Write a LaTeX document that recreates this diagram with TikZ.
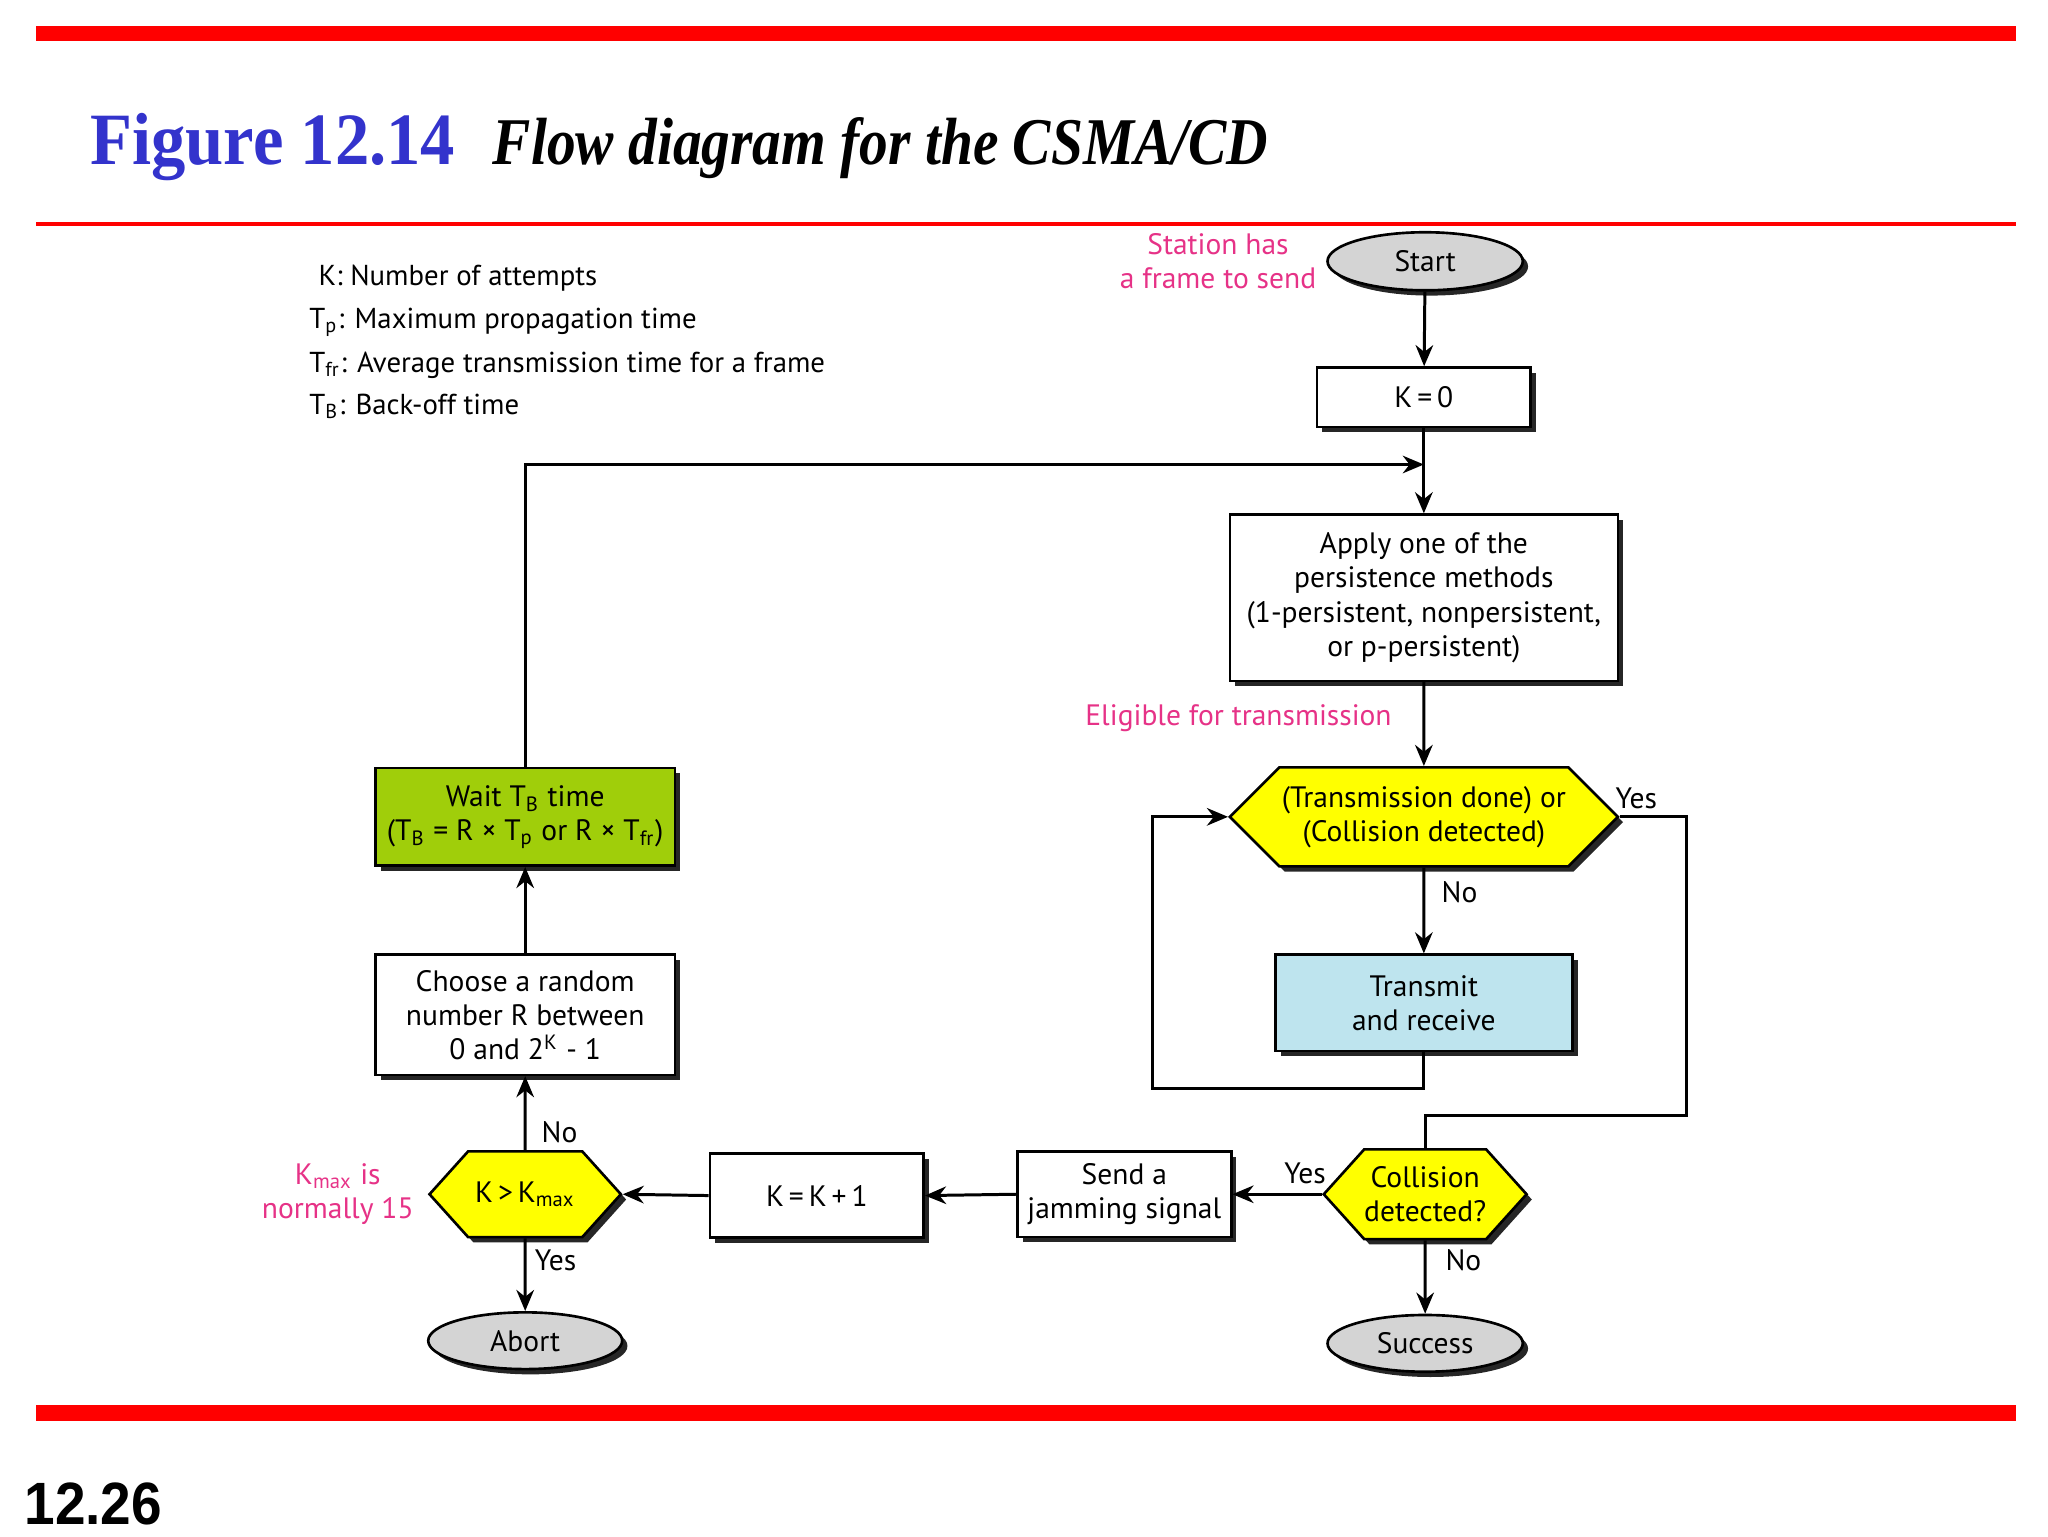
\documentclass[tikz,border=0pt]{standalone}
\usepackage{graphicx}
\usepackage{fontspec}
\setmainfont{PT Sans}
\newfontfamily\titlefont{Liberation Serif}
\newfontfamily\pagefont{Liberation Sans}
\usetikzlibrary{arrows.meta,shapes.geometric,shapes.symbols,shadows}
\definecolor{pinktxt}{RGB}{230,50,135}
\definecolor{titleblue}{RGB}{51,51,204}
\definecolor{barred}{RGB}{255,0,0}
\definecolor{hexyellow}{RGB}{255,255,0}
\definecolor{waitgreen}{RGB}{160,206,10}
\definecolor{txblue}{RGB}{190,228,238}
\definecolor{ovalgray}{RGB}{212,212,212}

\def\u{0.013196cm}

\tikzset{
  shad/.style={drop shadow={shadow xshift=1.5pt,shadow yshift=-1.5pt,fill=black!85,opacity=1}},
  boxfont/.style={font=\fontsize{8.4}{9.7}\selectfont},
  box/.style={draw,line width=0.75pt,fill=white,shad,align=center,inner sep=0pt,boxfont},
  oval/.style={ellipse,draw,line width=0.75pt,fill=ovalgray,shad,inner sep=0pt,boxfont},
  hexa/.style={signal,signal to=west and east,signal pointer angle=90,draw,line width=0.75pt,
    fill=hexyellow,shad,align=center,inner sep=0pt,boxfont},
  arr/.style={line width=0.85pt,-{Stealth[length=6pt,width=5pt]}},
  link/.style={line width=0.85pt},
  note/.style={text=pinktxt,align=center,boxfont},
  lbl/.style={boxfont},
  keyline/.style={anchor=base west,inner sep=0pt,font=\fontsize{8.2}{12.4}\selectfont}
}

\begin{document}
\begin{tikzpicture}[x=\u,y=-\u]
  \useasboundingbox (0,0) rectangle (1552,1164);
  % frame of the slide
  \fill[barred] (27,20) rectangle (1528,31);
  \fill[barred] (27,168.5) rectangle (1528,171.5);
  \fill[barred] (27,1065) rectangle (1528,1077);
  \node[anchor=base west,inner sep=0pt,text=titleblue,font=\titlefont\bfseries\fontsize{21}{21}\selectfont] (figno) at (68,125) {\scalebox{0.93}[1]{Figure 12.14}};
  \node[anchor=base west,inner sep=0pt,font=\titlefont\bfseries\itshape\fontsize{19}{19}\selectfont] (figcap) at (373,125) {\scalebox{0.86}[1]{Flow diagram for the CSMA/CD}};
  \node[anchor=base west,inner sep=0pt,font=\pagefont\bfseries\fontsize{17}{17}\selectfont] (pageno) at (18,1155) {\scalebox{0.92}[1]{12.26}};
  % legend
  \node[keyline] (key1) at (241,216) {K: Number of attempts};
  \node[keyline] (key2) at (234,249) {T\textsubscript{p}: Maximum propagation time};
  \node[keyline] (key3) at (234,282) {T\textsubscript{fr}: Average transmission time for a frame};
  \node[keyline] (key4) at (234,314) {T\textsubscript{B}: Back-off time};
  % right column
  \node[oval,minimum width=148*\u,minimum height=44*\u] (start) at (1080,198) {Start};
  \node[note] (station) at (923,198) {Station has\\a frame to send};
  \node[box,minimum width=162*\u,minimum height=45*\u] (k0) at (1079,301) {K\,=\,0};
  \coordinate (join) at (1079,352);
  \node[box,minimum width=294*\u,minimum height=126*\u] (apply) at (1079,453)
    {Apply one of the\\persistence methods\\(1-persistent, nonpersistent,\\or p-persistent)};
  \node[note,anchor=east] (elig) at (1064,544) {Eligible for transmission};
  \node[hexa,minimum width=294*\u,minimum height=75*\u] (hexA) at (1079,619)
    {(Transmission done) or\\(Collision detected)};
  \node[box,fill=txblue,minimum width=225*\u,minimum height=73*\u] (tx) at (1079,760) {Transmit\\and receive};
  \coordinate (loopL) at (873,825);
  \coordinate (yesR) at (1278,845);
  \node[hexa,signal pointer angle=96,minimum width=148*\u,minimum height=68*\u] (coll) at (1080,905)
    {Collision\\detected?};
  \node[oval,minimum width=148*\u,minimum height=43*\u] (success) at (1080,1018) {Success};
  \node[lbl] (yesA) at (1240,605) {Yes};
  \node[lbl] (noA) at (1106,676) {No};
  \node[lbl] (yesB) at (989,889) {Yes};
  \node[lbl] (noB) at (1109,955) {No};
  % bottom row and left column
  \node[box,minimum width=162*\u,minimum height=65*\u] (jam) at (852,905) {Send a\\jamming signal};
  \node[box,minimum width=162*\u,minimum height=64*\u] (kinc) at (619,906) {K\,=\,K\,+\,1};
  \node[hexa,signal pointer angle=96,minimum width=145*\u,minimum height=65*\u] (kmax) at (398,905)
    {K\,>\,K\textsubscript{max}};
  \node[note] (kmaxnote) at (256,905) {K\textsubscript{max} is\\normally 15};
  \node[oval,minimum width=147*\u,minimum height=43*\u] (abort) at (398,1016) {Abort};
  \node[lbl] (noC) at (424,858) {No};
  \node[lbl] (yesC) at (421,955) {Yes};
  \node[box,minimum width=227*\u,minimum height=91*\u] (choose) at (398,769)
    {Choose a random\\number R between\\0 and 2\textsuperscript{K} - 1};
  \node[box,fill=waitgreen,minimum width=227*\u,minimum height=74*\u] (wait) at (398,619)
    {Wait T\textsubscript{B} time\\(T\textsubscript{B} = R × T\textsubscript{p} or R × T\textsubscript{fr})};
  % connectors
  \draw[arr] (start) -- (k0);
  \draw[arr] (k0) -- (apply);
  \draw[arr] (wait.north) |- (join);
  \draw[arr] (apply) -- (hexA);
  \draw[arr] (hexA) -- (tx);
  \draw[arr] (tx.south) |- (loopL) |- (hexA.west);
  \draw[link] (hexA.east) -| (yesR) -| (coll.north);
  \draw[arr] (coll) -- (success);
  \draw[arr] (coll.west) -- (jam.east);
  \draw[arr] (jam.west) -- (kinc.east);
  \draw[arr] (kinc.west) -- (kmax.east);
  \draw[arr] (kmax) -- (abort);
  \draw[arr] (kmax) -- (choose);
  \draw[arr] (choose) -- (wait);
\end{tikzpicture}
\end{document}
